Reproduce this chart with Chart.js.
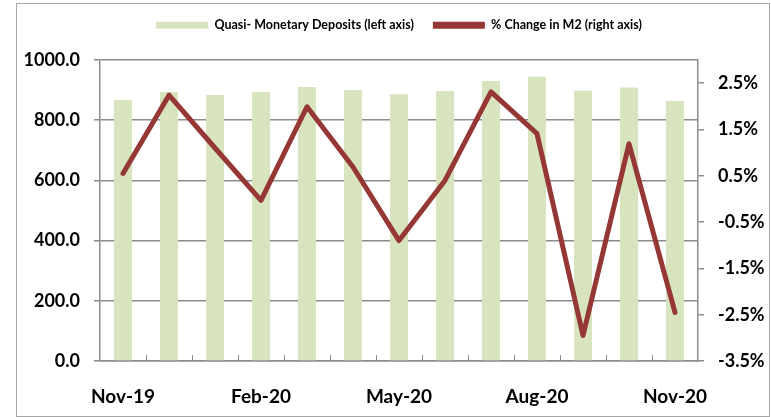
<!DOCTYPE html>
<html lang="en">
<head>
    <meta charset="UTF-8">
    <title>Quasi-Monetary Deposits and M2</title>
    <script src="https://cdn.jsdelivr.net/npm/chart.js"></script>
    <style>
        * {
            margin: 0;
            padding: 0;
            box-sizing: border-box;
        }

        body {
            background: #ffffff;
            width: 771px;
            height: 417px;
            overflow: hidden;
            position: relative;
        }

        .frame {
            position: absolute;
            left: 16px;
            top: 3px;
            width: 754px;
            height: 414px;
            border: 1px solid #a6a6a6;
        }

        #chart {
            position: absolute;
            left: 0;
            top: 0;
        }
    </style>
</head>
<body>
    <div class="frame"></div>
    <canvas id="chart" width="771" height="417"></canvas>

    <script>
        const months = ['Nov-19', 'Dec-19', 'Jan-20', 'Feb-20', 'Mar-20', 'Apr-20', 'May-20',
                        'Jun-20', 'Jul-20', 'Aug-20', 'Sep-20', 'Oct-20', 'Nov-20'];
        const shownMonths = ['Nov-19', 'Feb-20', 'May-20', 'Aug-20', 'Nov-20'];
        const deposits = [867, 894, 884, 894, 910, 900, 886, 897, 930, 944, 898, 909, 864];
        const m2Change = [0.55, 2.24, 1.10, -0.03, 1.99, 0.69, -0.90, 0.40, 2.31, 1.41, -2.95, 1.19, -2.45];
        const leftTicks = [0, 200, 400, 600, 800, 1000];
        const rightTicks = [-3.5, -2.5, -1.5, -0.5, 0.5, 1.5, 2.5];

        const barColor = '#d7e4bd';
        const lineColor = '#953735';
        const gridColor = '#8c8c8c';
        const fontFamily = "Lato, 'Liberation Sans', sans-serif";

        // small tick marks pointing up from the category axis, between bars
        const innerTicks = {
            id: 'innerTicks',
            beforeDatasetsDraw(chart) {
                const x = chart.scales.x;
                const ctx = chart.ctx;
                const bottom = chart.chartArea.bottom;
                ctx.save();
                ctx.strokeStyle = gridColor;
                ctx.lineWidth = 1;
                for (let i = 0; i < months.length - 1; i++) {
                    const px = Math.round((x.getPixelForValue(i) + x.getPixelForValue(i + 1)) / 2) + 0.5;
                    ctx.beginPath();
                    ctx.moveTo(px, bottom - 6);
                    ctx.lineTo(px, bottom);
                    ctx.stroke();
                }
                ctx.restore();
            }
        };

        const initChart = () => {
            if (typeof Chart === 'undefined') {
                console.error('Chart.js not loaded');
                return;
            }
            const ctx = document.getElementById('chart').getContext('2d');
            new Chart(ctx, {
                type: 'bar',
                data: {
                    labels: months,
                    datasets: [{
                        type: 'bar',
                        label: 'Quasi- Monetary Deposits (left axis)',
                        data: deposits,
                        backgroundColor: barColor,
                        yAxisID: 'y',
                        barPercentage: 0.39,
                        categoryPercentage: 1.0,
                        order: 1
                    }, {
                        type: 'line',
                        label: '% Change in M2 (right axis)',
                        data: m2Change,
                        borderColor: lineColor,
                        backgroundColor: lineColor,
                        borderWidth: 5,
                        borderCapStyle: 'round',
                        borderJoinStyle: 'round',
                        pointRadius: 0,
                        tension: 0,
                        yAxisID: 'y1',
                        order: 0
                    }]
                },
                options: {
                    responsive: false,
                    animation: false,
                    devicePixelRatio: 1,
                    layout: {
                        padding: 0
                    },
                    plugins: {
                        tooltip: { enabled: false },
                        legend: {
                            position: 'top',
                            align: 'center',
                            fullSize: false,
                            labels: {
                                boxWidth: 52,
                                boxHeight: 7,
                                padding: 19,
                                color: '#000000',
                                font: { family: fontFamily, size: 12.5, weight: 'bold' },
                                generateLabels: (chart) => chart.data.datasets.map((ds, i) => ({
                                    text: ds.label,
                                    fillStyle: i === 0 ? barColor : lineColor,
                                    strokeStyle: 'rgba(0,0,0,0)',
                                    lineWidth: 0,
                                    hidden: false,
                                    datasetIndex: i
                                }))
                            }
                        },
                        // empty spacer between legend and plot
                        title: {
                            display: true,
                            text: '',
                            position: 'top',
                            weight: 500,
                            padding: 0,
                            font: { size: 10, lineHeight: 1.85 }
                        }
                    },
                    scales: {
                        x: {
                            grid: { display: false },
                            border: { display: true, color: gridColor, width: 1.5 },
                            ticks: {
                                color: '#000000',
                                font: { family: fontFamily, size: 19, weight: 'bold' },
                                padding: 16,
                                autoSkip: false,
                                maxRotation: 0,
                                callback: (v, i) => shownMonths.includes(months[i]) ? months[i] : ''
                            },
                            afterFit: (s) => { s.height = 56; }
                        },
                        y: {
                            position: 'left',
                            min: 0,
                            max: 1000,
                            grid: { color: gridColor, lineWidth: 1.5, tickLength: 6 },
                            border: { display: true, color: gridColor, width: 1.5 },
                            ticks: {
                                color: '#000000',
                                font: { family: fontFamily, size: 18, weight: 'bold' },
                                padding: 14,
                                callback: (v) => v.toFixed(1)
                            },
                            afterBuildTicks: (s) => { s.ticks = leftTicks.map(v => ({ value: v })); },
                            afterFit: (s) => { s.width = 100; }
                        },
                        y1: {
                            position: 'right',
                            min: -3.5,
                            max: 3.0,
                            grid: { drawOnChartArea: false, color: gridColor, lineWidth: 1.5, tickLength: 6 },
                            border: { display: true, color: gridColor, width: 1.5 },
                            ticks: {
                                color: '#000000',
                                font: { family: fontFamily, size: 18, weight: 'bold' },
                                padding: 14,
                                callback: (v) => v.toFixed(1) + '%'
                            },
                            afterBuildTicks: (s) => { s.ticks = rightTicks.map(v => ({ value: v })); },
                            afterFit: (s) => { s.width = 73; }
                        }
                    }
                },
                plugins: [innerTicks]
            });
        };

        document.addEventListener('DOMContentLoaded', initChart);
    </script>
</body>
</html>
